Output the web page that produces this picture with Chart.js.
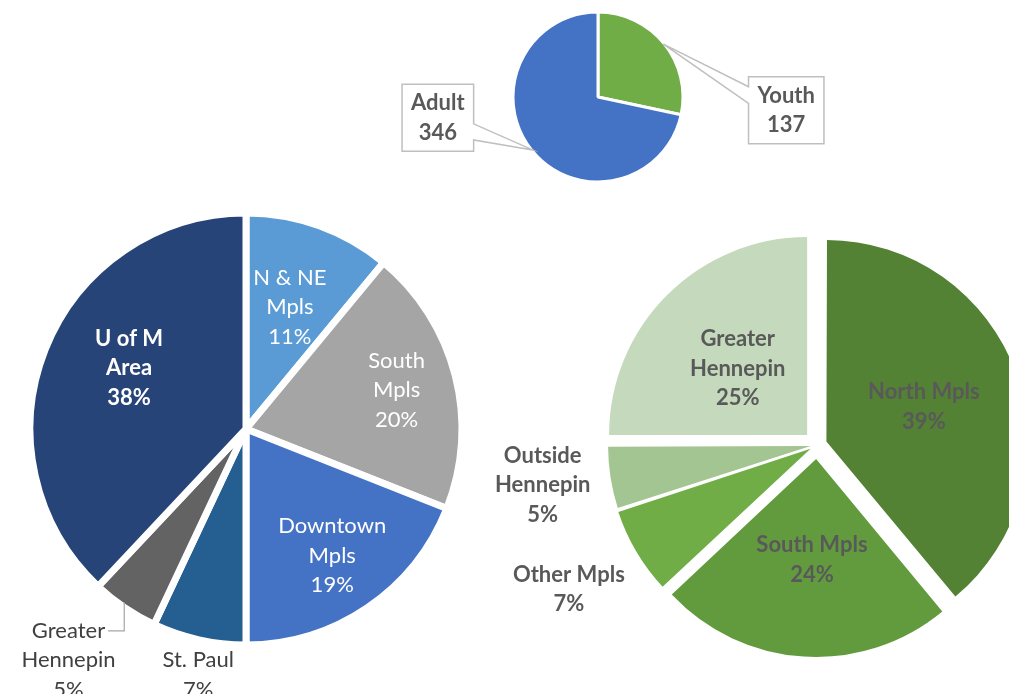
<!DOCTYPE html>
<html>
<head>
<meta charset="utf-8">
<script src="https://cdn.jsdelivr.net/npm/chart.js@4.4.1/dist/chart.umd.min.js"></script>
<style>
  html, body { margin: 0; padding: 0; background: #ffffff; width: 1009px; height: 694px; overflow: hidden; }
  .wrap { position: absolute; }
</style>
</head>
<body>
<div class="wrap" id="wTop" style="left:348px; top:0px; width:500px; height:194px;"><canvas id="cTop" width="500" height="194"></canvas></div>
<div class="wrap" id="wLeft" style="left:0px; top:163px; width:492px; height:532px;"><canvas id="cLeft" width="492" height="532"></canvas></div>
<div class="wrap" id="wRight" style="left:490px; top:195px; width:654px; height:500px;"><canvas id="cRight" width="654" height="500"></canvas></div>
<script>
// ---------- DATA ----------
const ageCategories = ["Youth", "Adult"];
const ageValues = [137, 346];

const adultCategories = ["N & NE\nMpls", "South\nMpls", "Downtown\nMpls", "St. Paul", "Greater\nHennepin", "U of M\nArea"];
const adultValues = [11, 20, 19, 7, 5, 38];

const youthCategories = ["North Mpls", "South Mpls", "Other Mpls", "Outside\nHennepin", "Greater\nHennepin"];
const youthValues = [39, 24, 7, 5, 25];

// ---------- STYLE ----------
const FONT = "Lato, 'Open Sans', 'DejaVu Sans', sans-serif";
const LINE_H = 29.5;

const sliceLabels = {
  id: 'sliceLabels',
  afterDatasetsDraw(chart, args, opts) {
    const ctx = chart.ctx;
    const meta = chart.getDatasetMeta(0);
    const ds = chart.data.datasets[0];
    meta.data.forEach((arc, i) => {
      const cfg = opts.items[i];
      const p = arc.getProps(['x', 'y', 'startAngle', 'endAngle', 'outerRadius'], true);
      const bis = (p.startAngle + p.endAngle) / 2;
      const ang = cfg.angle !== undefined ? (cfg.angle - 90) * Math.PI / 180 : bis;
      const lx = p.x + Math.cos(ang) * p.outerRadius * cfg.f;
      const ly = p.y + Math.sin(ang) * p.outerRadius * cfg.f;
      const lines = String(chart.data.labels[i]).split('\n').concat([opts.fmt(ds.data[i])]);
      ctx.save();
      ctx.font = (cfg.bold ? 'bold ' : '') + opts.size + 'px ' + FONT;
      const widths = lines.map(l => ctx.measureText(l).width);
      const maxW = Math.max(...widths);
      const n = lines.length;
      const top = ly - (n * LINE_H) / 2;
      if (cfg.box) {
        const padX = 9, padY = 4;
        const L = lx - maxW / 2 - padX, R = lx + maxW / 2 + padX;
        const T = top - padY, B = top + n * LINE_H + padY;
        const tipX = p.x + Math.cos(bis) * p.outerRadius * 0.99;
        const tipY = p.y + Math.sin(bis) * p.outerRadius * 0.99;
        const y1 = T + (B - T) * cfg.box[1], y2 = T + (B - T) * cfg.box[2];
        ctx.beginPath();
        if (cfg.box[0] === 'right') {
          ctx.moveTo(L, T); ctx.lineTo(R, T); ctx.lineTo(R, y1); ctx.lineTo(tipX, tipY);
          ctx.lineTo(R, y2); ctx.lineTo(R, B); ctx.lineTo(L, B); ctx.closePath();
        } else {
          ctx.moveTo(L, T); ctx.lineTo(R, T); ctx.lineTo(R, B); ctx.lineTo(L, B);
          ctx.lineTo(L, y2); ctx.lineTo(tipX, tipY); ctx.lineTo(L, y1); ctx.closePath();
        }
        ctx.fillStyle = '#ffffff';
        ctx.fill();
        ctx.strokeStyle = '#BFBFBF';
        ctx.lineWidth = 1.5;
        ctx.stroke();
      }
      if (cfg.leader) {
        const ex = p.x + Math.cos(bis) * p.outerRadius * 0.97;
        const ey = p.y + Math.sin(bis) * p.outerRadius * 0.97;
        const fy = top + LINE_H / 2;
        ctx.beginPath();
        ctx.moveTo(lx + widths[0] / 2 + 3, fy);
        ctx.lineTo(ex - 4, fy);
        ctx.lineTo(ex - 4, ey);
        ctx.strokeStyle = '#A6A6A6';
        ctx.lineWidth = 1.2;
        ctx.stroke();
      }
      ctx.fillStyle = cfg.color;
      ctx.textAlign = 'center';
      ctx.textBaseline = 'middle';
      lines.forEach((l, k) => ctx.fillText(l, lx, top + LINE_H * (k + 0.5)));
      ctx.restore();
    });
  }
};

function makePie(id, labels, values, colors, ds, plugOpts) {
  return new Chart(document.getElementById(id), {
    type: 'pie',
    data: {
      labels: labels,
      datasets: [Object.assign({ data: values, backgroundColor: colors, borderColor: '#ffffff', clip: false }, ds)]
    },
    options: {
      responsive: false,
      animation: false,
      layout: { padding: 0 },
      plugins: { legend: { display: false }, tooltip: { enabled: false }, sliceLabels: plugOpts }
    },
    plugins: [sliceLabels]
  });
}

// Top pie: Youth / Adult
makePie('cTop', ageCategories, ageValues, ['#70AD47', '#4472C4'],
  { borderWidth: 3, radius: 85 },
  { size: 22, fmt: v => String(v), items: [
    { angle: 94, f: 2.22, bold: true, color: '#595959', box: ['left', 0.15, 0.40] },
    { angle: 262.6, f: 1.90, bold: true, color: '#595959', box: ['right', 0.59, 0.83] }
  ] });

// Left pie: adults by area
makePie('cLeft', adultCategories, adultValues,
  ['#5B9BD5', '#A5A5A5', '#4472C4', '#255E91', '#636363', '#264478'],
  { borderWidth: 7, radius: 216 },
  { size: 22, fmt: v => v + '%', items: [
    { f: 0.60, color: '#ffffff' },
    { f: 0.72, color: '#ffffff' },
    { f: 0.71, color: '#ffffff' },
    { angle: 191, f: 1.16, color: '#404040' },
    { angle: 217.5, f: 1.35, color: '#404040', leader: true },
    { angle: 297.5, f: 0.61, bold: true, color: '#ffffff' }
  ] });

// Right pie: youth by area
makePie('cRight', youthCategories, youthValues,
  ['#548235', '#629B3E', '#70AD47', '#A2C591', '#C5D9BC'],
  { borderWidth: 0, offset: [40, 56, 30, 26, 56], radius: 198 },
  { size: 22, fmt: v => v + '%', items: [
    { angle: 70.4, f: 0.573, bold: true, color: '#595959' },
    { angle: 182.5, f: 0.58, bold: true, color: '#595959' },
    { angle: 239.8, f: 1.45, bold: true, color: '#595959' },
    { angle: 261.7, f: 1.40, bold: true, color: '#595959' },
    { angle: 314, f: 0.556, bold: true, color: '#595959' }
  ] });
</script>
</body>
</html>
